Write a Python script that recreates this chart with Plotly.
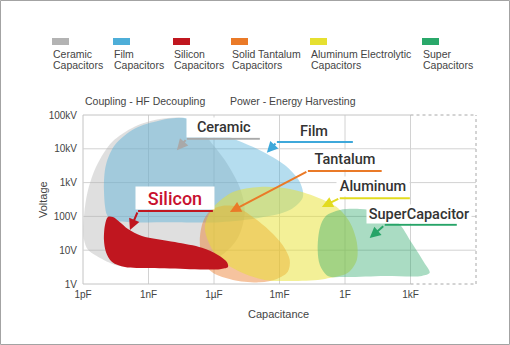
import plotly.graph_objects as go

# ---------------- data: region outlines (log10 capacitance [F], log10 voltage [V]) ----------------
ceramic_logC = [-11.95, -11.95, -11.77, -11.36, -10.67, -9.62, -8.48, -7.33, -6.65, -5.96, -5.36, -4.81, -4.59, -4.91, -5.64, -6.65, -8.48, -10.31, -11.22, -11.77]
ceramic_logV = [1.30, 2.04, 2.78, 3.52, 4.20, 4.66, 4.88, 4.90, 4.56, 4.05, 3.52, 2.84, 2.13, 1.36, 0.86, 0.65, 0.59, 0.53, 0.77, 1.01]

film_logC = [-10.90, -11.04, -10.95, -10.54, -9.62, -8.48, -7.33, -6.42, -5.27, -3.90, -2.76, -2.07, -1.93, -2.53, -3.90, -5.73, -8.02, -9.85, -10.67]
film_logV = [2.04, 2.78, 3.52, 4.11, 4.60, 4.84, 4.91, 4.73, 4.35, 3.96, 3.52, 3.02, 2.57, 2.19, 1.96, 1.83, 1.83, 1.83, 1.89]

silicon_logC = [-11.04, -10.99, -10.86, -10.63, -10.31, -9.94, -9.30, -7.79, -6.55, -5.82, -5.41, -5.36, -5.73, -7.10, -8.93, -10.08, -10.67, -10.95]
silicon_logV = [1.30, 1.75, 1.98, 1.98, 1.83, 1.63, 1.42, 1.24, 1.07, 0.86, 0.65, 0.50, 0.44, 0.44, 0.47, 0.50, 0.65, 0.95]

tantalum_logC = [-6.65, -6.51, -6.19, -5.64, -4.95, -4.22, -3.44, -2.85, -2.53, -2.62, -3.12, -3.90, -5.13, -6.05, -6.51]
tantalum_logV = [1.30, 1.83, 2.16, 2.31, 2.28, 1.98, 1.57, 1.15, 0.71, 0.36, 0.15, 0.05, 0.12, 0.33, 0.68]

aluminum_logC = [-6.42, -6.05, -5.13, -3.90, -2.53, -1.29, -0.38, 0.22, 0.54, 0.54, 0.13, -0.92, -2.30, -3.67, -4.81, -5.91]
aluminum_logV = [1.66, 2.25, 2.72, 2.87, 2.81, 2.57, 2.28, 1.83, 1.24, 0.71, 0.33, 0.15, 0.09, 0.12, 0.36, 0.86]

super_logC = [-1.25, -1.15, -0.88, -0.24, 0.68, 1.59, 2.42, 3.06, 3.61, 3.88, 3.52, 1.82, -0.01, -0.79, -1.15]
super_logV = [1.01, 1.66, 2.01, 2.19, 2.22, 2.13, 1.83, 1.21, 0.65, 0.33, 0.24, 0.24, 0.21, 0.24, 0.56]

x_tick_vals = [1e-12, 1e-9, 1e-6, 1e-3, 1, 1e3]
x_tick_text = ["1pF", "1nF", "1µF", "1mF", "1F", "1kF"]
y_tick_vals = [1, 10, 100, 1e3, 1e4, 1e5]
y_tick_text = ["1V", "10V", "100V", "1kV", "10kV", "100kV"]

legend_line1 = ["Ceramic", "Film", "Silicon", "Solid Tantalum", "Aluminum Electrolytic", "Super"]
legend_line2 = ["Capacitors"] * 6
legend_colors = ["#b3b3b3", "#4eaed8", "#c0161f", "#ea7a28", "#e6e030", "#2aa86a"]

# callout labels: text, text centre logC, elbow (logC, logV), line end logC, arrow tip (logC, logV)
label_text = ["Ceramic", "Film", "Tantalum", "Aluminum", "SuperCapacitor", "Silicon"]
label_pos_logC = [-5.55, -1.43, -0.01, 1.27, 3.38, -7.79]
elbow_logC = [-7.24, -3.12, -1.70, -0.24, 1.82, -9.48]
elbow_logV = [4.30, 4.20, 3.34, 2.54, 1.75, 2.16]
line_end_logC = [-3.90, 0.36, 1.68, 2.97, 5.12, -6.05]
tip_logC = [-7.70, -3.58, -5.27, -1.06, 1.13, -9.85]
tip_logV = [3.96, 3.88, 2.13, 2.28, 1.36, 1.60]
label_colors = ["#a9a9a9", "#3ea8da", "#ea7a28", "#e2db20", "#27a468", "#c0161f"]

# ---------------- figure ----------------
W, H = 510, 345
ML, MR, MT, MB = 83, 34, 115, 61
PW, PH = W - ML - MR, H - MT - MB
XR = [-12, 6]
FONT = "Liberation Sans, Arial, sans-serif"
LABEL_FONT = "Roboto, Liberation Sans, Arial, sans-serif"


def px(xp):
    return (xp - ML) / PW


def py(yp):
    return (H - MB - yp) / PH


def lx_paper(v):
    return (v - XR[0]) / (XR[1] - XR[0])


fig = go.Figure()

regions = [
    (ceramic_logC, ceramic_logV, "rgba(179,179,179,0.42)"),
    (film_logC, film_logV, "rgba(78,174,216,0.42)"),
    (tantalum_logC, tantalum_logV, "rgba(234,122,40,0.45)"),
    (aluminum_logC, aluminum_logV, "rgba(232,226,48,0.50)"),
    (super_logC, super_logV, "rgba(42,168,106,0.40)"),
    (silicon_logC, silicon_logV, "rgba(192,22,31,1)"),
]
for lc, lv, col in regions:
    xs = [10 ** v for v in lc] + [10 ** lc[0]]
    ys = [10 ** v for v in lv] + [10 ** lv[0]]
    fig.add_trace(go.Scatter(
        x=xs, y=ys, mode="lines", fill="toself", fillcolor=col,
        line=dict(width=0, shape="spline", smoothing=0.9, color="rgba(0,0,0,0)"),
        hoverinfo="skip", showlegend=False))

# horizontal callout segments
for i in range(len(label_text)):
    fig.add_trace(go.Scatter(
        x=[10 ** elbow_logC[i], 10 ** line_end_logC[i]],
        y=[10 ** elbow_logV[i]] * 2, mode="lines",
        line=dict(color=label_colors[i], width=2),
        hoverinfo="skip", showlegend=False))

shapes = []
grid_col = "#d2d2d2"
for v in [-12, -9, -6, -3, 0, 3]:
    shapes.append(dict(type="line", xref="paper", yref="paper", x0=lx_paper(v), x1=lx_paper(v), y0=0, y1=1,
                       line=dict(color="#c4c4c4" if v == -12 else grid_col, width=1), layer="below"))
for v in [1, 2, 3, 4]:
    shapes.append(dict(type="line", xref="paper", yref="paper", x0=0, x1=1, y0=v / 5, y1=v / 5,
                       line=dict(color=grid_col, width=1), layer="below"))
for yv in [0, 1]:
    shapes.append(dict(type="line", xref="paper", yref="paper", x0=0, x1=lx_paper(3), y0=yv, y1=yv,
                       line=dict(color="#c4c4c4", width=1), layer="below"))
    shapes.append(dict(type="line", xref="paper", yref="paper", x0=lx_paper(3), x1=1, y0=yv, y1=yv,
                       line=dict(color="#a8a8a8", width=1, dash="3px,3px"), layer="below"))
shapes.append(dict(type="line", xref="paper", yref="paper", x0=1, x1=1, y0=0, y1=1,
                   line=dict(color="#a8a8a8", width=1, dash="3px,3px"), layer="below"))
shapes.append(dict(type="rect", xref="paper", yref="paper", x0=px(0.5), x1=px(509.5), y0=py(344.5), y1=py(0.5),
                   line=dict(color="#a3a3a3", width=1), fillcolor="rgba(0,0,0,0)", layer="above"))

annotations = []
legend_x = [52, 113, 173, 231, 310, 422]
for i in range(6):
    shapes.append(dict(type="rect", xref="paper", yref="paper", x0=px(legend_x[i]), x1=px(legend_x[i] + 17),
                       y0=py(45), y1=py(38), fillcolor=legend_colors[i], line=dict(width=0)))
    for t, yc in [(legend_line1[i], 54), (legend_line2[i], 65)]:
        annotations.append(dict(xref="paper", yref="paper", x=px(legend_x[i] - 1), y=py(yc), text=t,
                                xanchor="left", yanchor="middle", showarrow=False,
                                font=dict(size=10.5, color="#444444", family=FONT)))

annotations.append(dict(xref="paper", yref="paper", x=px(83), y=py(101), text="Coupling - HF Decoupling",
                        xanchor="left", yanchor="middle", showarrow=False,
                        font=dict(size=10.5, color="#444444", family=FONT)))
annotations.append(dict(xref="paper", yref="paper", x=px(228), y=py(101), text="Power - Energy Harvesting",
                        xanchor="left", yanchor="middle", showarrow=False,
                        font=dict(size=10.5, color="#444444", family=FONT)))
annotations.append(dict(xref="paper", yref="paper", x=px(278), y=py(314), text="Capacitance",
                        xanchor="center", yanchor="middle", showarrow=False,
                        font=dict(size=11, color="#444444", family=FONT)))
annotations.append(dict(xref="paper", yref="paper", x=px(43), y=py(200), text="Voltage", textangle=-90,
                        xanchor="center", yanchor="middle", showarrow=False,
                        font=dict(size=11, color="#444444", family=FONT)))

for i in range(len(label_text)):
    annotations.append(dict(x=tip_logC[i], y=tip_logV[i], ax=elbow_logC[i], ay=elbow_logV[i],
                            xref="x", yref="y", axref="x", ayref="y", text="", showarrow=True,
                            arrowhead=2, arrowsize=1.1, arrowwidth=2, arrowcolor=label_colors[i]))

box_sizes = [(74, 19), (40, 18), (70, 19), (72, 19), (104, 18), (78, 22)]
for i in range(len(label_text)):
    is_si = label_text[i] == "Silicon"
    w, h = box_sizes[i]
    annotations.append(dict(
        x=label_pos_logC[i], y=elbow_logV[i], xref="x", yref="y", text=label_text[i],
        xanchor="center", yanchor="bottom", yshift=1, width=w, height=h,
        showarrow=False, bgcolor="white", borderpad=0,
        font=dict(size=18 if is_si else 14.5, color="#c8102e" if is_si else "#333333",
                  family=LABEL_FONT, weight=500)))

fig.update_layout(
    width=W, height=H, autosize=False,
    margin=dict(l=ML, r=MR, t=MT, b=MB, pad=0),
    paper_bgcolor="white", plot_bgcolor="white",
    font=dict(family=FONT, color="#444444"),
    xaxis=dict(type="log", range=XR, tickvals=x_tick_vals, ticktext=x_tick_text, showgrid=False,
               zeroline=False, showline=False, ticks="", ticklabelstandoff=3,
               tickfont=dict(size=10, color="#444444")),
    yaxis=dict(type="log", range=[0, 5], tickvals=y_tick_vals, ticktext=y_tick_text, showgrid=False,
               zeroline=False, showline=False, ticks="", ticklabelstandoff=5,
               tickfont=dict(size=10, color="#444444")),
    shapes=shapes, annotations=annotations, showlegend=False,
)

fig.write_html("out.html")
